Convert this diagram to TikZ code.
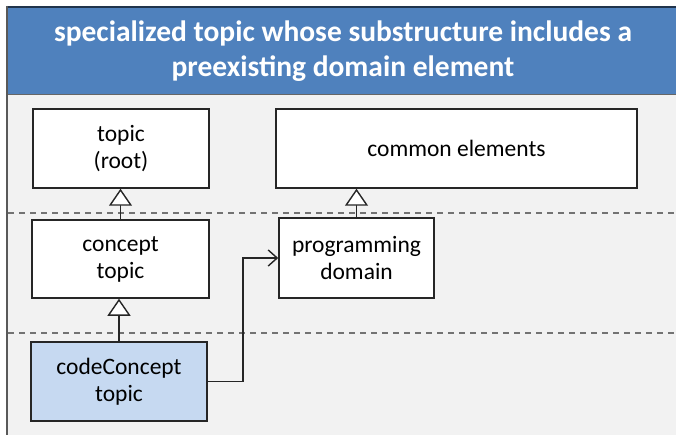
\documentclass[tikz,border=0pt]{standalone}
\usepackage{fontspec}
\setmainfont{Carlito}
\usetikzlibrary{arrows.meta}
\definecolor{hdrblue}{HTML}{4F81BD}
\definecolor{bggrey}{HTML}{F2F2F2}
\definecolor{codeblue}{HTML}{C6D9F1}
\definecolor{bordergrey}{HTML}{595959}
\tikzset{
  box/.style={draw=black!85, line width=1.5pt, fill=white, rectangle, align=center,
    font=\fontsize{23.5}{27}\selectfont, inner sep=0pt},
  gen/.style={draw=black!85, line width=1.5pt, -{Triangle[fill=white, width=23pt, length=17pt, line width=1.4pt]}},
  assoc/.style={draw=black!85, line width=1.5pt, -{Straight Barb[length=9pt, width=16pt, line width=1.4pt]}},
  sep/.style={draw=black!55, line width=2.2pt, dash pattern=on 6pt off 5pt},
}
\begin{document}
\begin{tikzpicture}[x=1pt, y=-1pt]
\useasboundingbox (0,0) rectangle (676,435);
\fill[white] (0,0) rectangle (676,435);
\fill[bggrey] (7,7) rectangle (676,435);
\fill[hdrblue] (7,7) rectangle (676,94);
\draw[color=black!60, line width=1pt] (7,94.5) -- (676,94.5);
\draw[color=hdrblue!40!black, line width=1.5pt] (7,7) -- (676,7);
\draw[color=bordergrey, line width=2pt] (7,6) -- (7,435);
\node[text=white, font=\bfseries\fontsize{29.5}{35}\selectfont, align=center] (title) at (343,51)
  {specialized topic whose substructure includes a\\preexisting domain element};
\draw[sep] (8,213) -- (676,213);
\draw[sep] (8,333) -- (676,333);
\node[box, minimum width=176pt, minimum height=79pt] (topic) at (121,148.5) {topic\\(root)};
\node[box, minimum width=361pt, minimum height=79pt] (common) at (456.5,148.5) {common elements};
\node[box, minimum width=177pt, minimum height=78pt] (concept) at (120.5,259) {concept\\topic};
\node[box, minimum width=155pt, minimum height=80pt] (prog) at (356.5,258) {programming\\domain};
\node[box, fill=codeblue, minimum width=176pt, minimum height=79pt] (code) at (119,381.5) {codeConcept\\topic};
\draw[gen] (concept.north) -- (concept.north |- topic.south);
\draw[gen] (prog.north) -- (prog.north |- common.south);
\draw[gen] (code.north) -- (code.north |- concept.south);
\draw[assoc] (code.east) -- ++(35,0) |- (prog.west);
\end{tikzpicture}
\end{document}
